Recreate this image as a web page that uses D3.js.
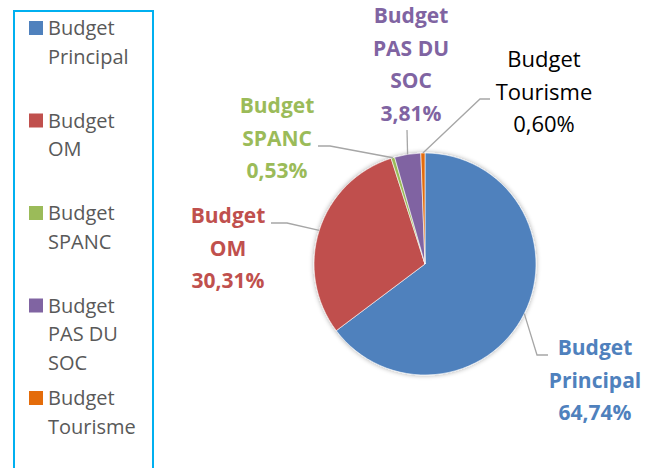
<!DOCTYPE html>
<html>
<head>
<meta charset="utf-8">
<script src="https://cdn.jsdelivr.net/npm/d3@7"></script>
<style>
  html, body { margin: 0; padding: 0; background: #fff; }
  svg { display: block; }
</style>
</head>
<body>
<svg id="chart" width="659" height="468"></svg>
<script>
// ---- data ----
const categories = ["Budget Principal", "Budget OM", "Budget SPANC", "Budget PAS DU SOC", "Budget Tourisme"];
const legendLines = [["Budget", "Principal"], ["Budget", "OM"], ["Budget", "SPANC"], ["Budget", "PAS DU", "SOC"], ["Budget", "Tourisme"]];
const labelLines = [["Budget", "Principal"], ["Budget", "OM"], ["Budget", "SPANC"], ["Budget", "PAS DU", "SOC"], ["Budget", "Tourisme"]];
const values = [64.74, 30.31, 0.53, 3.81, 0.60];
const percentLabels = ["64,74%", "30,31%", "0,53%", "3,81%", "0,60%"];
const colors = ["#4F81BD", "#C0504D", "#9BBB59", "#8064A2", "#E46C0A"];

// ---- layout ----
const cx = 425, cy = 264, R = 111;
const labelLayout = [
  { x: 595, y: 355, bold: true, color: colors[0], path: [[537, 355], [548, 355]] },
  { x: 228, y: 223, bold: true, color: colors[1], path: [[287, 223], [271, 223]] },
  { x: 277, y: 113, bold: true, color: colors[2], path: [[330, 146], [318, 146]] },
  { x: 411, y: 23,  bold: true, color: colors[3], path: [[407, 130]] },
  { x: 544, y: 67,  bold: false, color: "#000000", path: [[480, 99], [490, 99]] }
];

const svg = d3.select("#chart");
const font = "'Open Sans', 'DejaVu Sans', sans-serif";

// shadow filter
const defs = svg.append("defs");
const f = defs.append("filter").attr("id", "sh").attr("x", "-20%").attr("y", "-20%").attr("width", "140%").attr("height", "140%");
f.append("feGaussianBlur").attr("in", "SourceAlpha").attr("stdDeviation", 2.5).attr("result", "b");
f.append("feOffset").attr("in", "b").attr("dx", 0).attr("dy", 0).attr("result", "o");
f.append("feComponentTransfer").attr("in", "o").attr("result", "o2")
  .append("feFuncA").attr("type", "linear").attr("slope", 0.35);
const m = f.append("feMerge");
m.append("feMergeNode").attr("in", "o2");
m.append("feMergeNode").attr("in", "SourceGraphic");

// ---- legend ----
svg.append("rect")
  .attr("x", 14).attr("y", 11).attr("width", 139).attr("height", 480)
  .attr("fill", "none").attr("stroke", "#00B0F0").attr("stroke-width", 2);

const legendY = d3.scalePoint().domain(categories).range([35, 405]);
const leg = svg.append("g").selectAll("g").data(categories).join("g")
  .attr("transform", d => `translate(0,${legendY(d)})`);
leg.append("rect")
  .attr("x", 29).attr("y", -14).attr("width", 14).attr("height", 14)
  .attr("fill", (d, i) => colors[i]);
leg.append("text")
  .attr("x", 48).attr("y", 0)
  .attr("font-family", font).attr("font-size", 20).attr("fill", "#595959")
  .selectAll("tspan").data((d, i) => legendLines[i]).join("tspan")
  .attr("x", 48).attr("y", (t, j) => j * 28.5)
  .text(t => t);

// ---- pie ----
const pie = d3.pie().sort(null).value(d => d);
const arcs = pie(values);
const arc = d3.arc().innerRadius(0).outerRadius(R);

const g = svg.append("g").attr("transform", `translate(${cx},${cy})`);
g.append("g").attr("filter", "url(#sh)")
  .selectAll("path").data(arcs).join("path")
  .attr("d", arc)
  .attr("fill", (d, i) => colors[i])
  .attr("stroke", "#ffffff").attr("stroke-width", 0.6);

// ---- leader lines ----
arcs.forEach((a, i) => {
  const mid = (a.startAngle + a.endAngle) / 2;
  const sx = cx + R * Math.sin(mid), sy = cy - R * Math.cos(mid);
  const pts = [[sx, sy]].concat(labelLayout[i].path);
  svg.append("path")
    .attr("d", d3.line()(pts))
    .attr("fill", "none").attr("stroke", "#A6A6A6").attr("stroke-width", 1.3);
});

// ---- data labels ----
labelLayout.forEach((L, i) => {
  const lines = labelLines[i].concat([percentLabels[i]]);
  const t = svg.append("text")
    .attr("text-anchor", "middle")
    .attr("font-family", font)
    .attr("font-size", L.bold ? 21 : 22)
    .attr("font-weight", L.bold ? "bold" : "normal")
    .attr("fill", L.color);
  lines.forEach((s, j) => {
    t.append("tspan").attr("x", L.x).attr("y", L.y + j * 32.6).text(s);
  });
});
</script>
</body>
</html>
